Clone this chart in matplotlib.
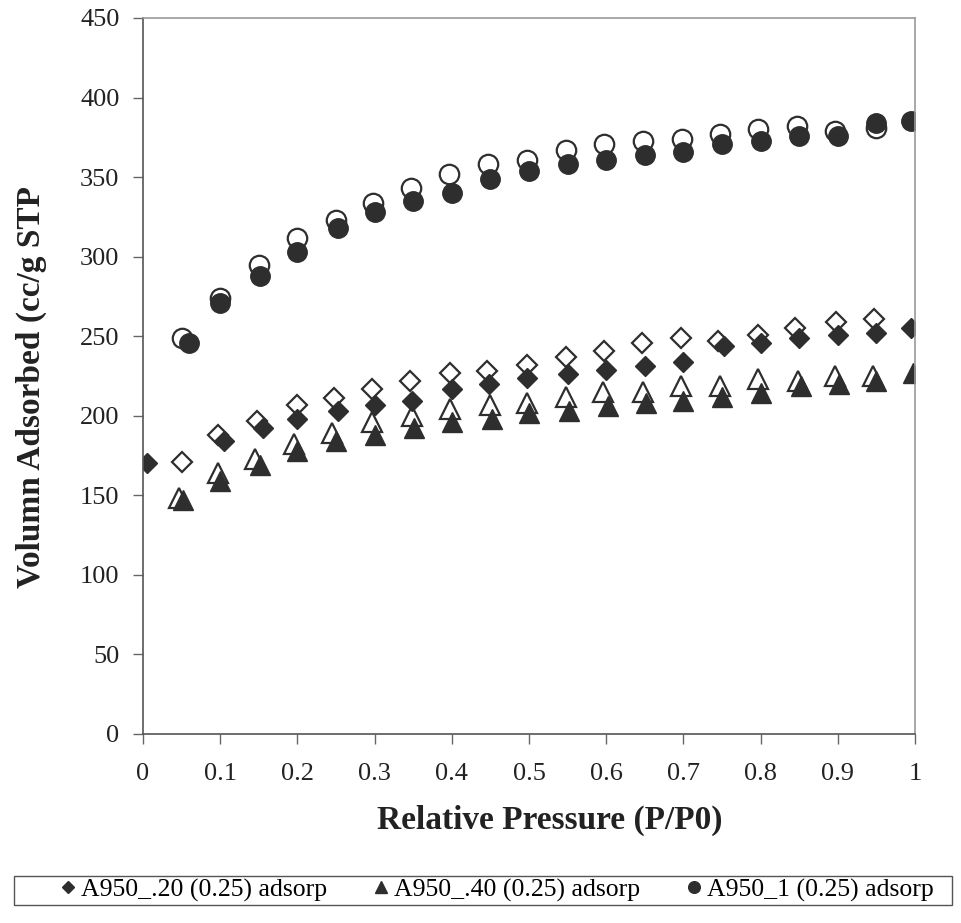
import numpy as np
import matplotlib
matplotlib.use("Agg")
import matplotlib.pyplot as plt
from matplotlib.patches import Rectangle

plt.rcParams['font.family'] = ['Liberation Serif', 'DejaVu Serif']

# A950_.20 (0.25): adsorption (filled) and desorption (open)
p_20_ads = [0.005, 0.105, 0.155, 0.2, 0.252, 0.3, 0.348, 0.4, 0.448, 0.497,
            0.55, 0.6, 0.65, 0.7, 0.752, 0.8, 0.85, 0.9, 0.95, 0.995]
v_20_ads = [170, 184, 192, 198, 203, 207, 209, 217, 220, 224,
            226, 229, 231, 234, 244, 246, 249, 251, 252, 255]
p_20_des = [0.05, 0.097, 0.147, 0.2, 0.248, 0.297, 0.346, 0.398, 0.446, 0.497,
            0.548, 0.597, 0.647, 0.697, 0.745, 0.797, 0.845, 0.898, 0.947]
v_20_des = [171, 188, 197, 207, 211, 217, 222, 227, 228, 232,
            237, 241, 246, 249, 247, 251, 255, 259, 261]

# A950_.40 (0.25)
p_40_ads = [0.052, 0.1, 0.152, 0.2, 0.25, 0.3, 0.351, 0.4, 0.452, 0.5,
            0.552, 0.602, 0.651, 0.7, 0.75, 0.8, 0.853, 0.902, 0.95, 0.997]
v_40_ads = [147, 159, 169, 178, 184, 188, 192, 196, 198, 202,
            203, 206, 208, 209, 212, 214, 219, 220, 222, 227]
p_40_des = [0.047, 0.097, 0.145, 0.195, 0.245, 0.297, 0.349, 0.398, 0.449, 0.497,
            0.548, 0.596, 0.648, 0.697, 0.748, 0.797, 0.848, 0.897, 0.945]
v_40_des = [148, 164, 173, 182, 189, 196, 200, 204, 207, 208,
            212, 215, 215, 219, 219, 223, 222, 225, 225]

# A950_1 (0.25)
p_1_ads = [0.06, 0.1, 0.152, 0.2, 0.253, 0.3, 0.35, 0.4, 0.45, 0.5,
           0.55, 0.6, 0.65, 0.7, 0.75, 0.8, 0.85, 0.9, 0.95, 0.995]
v_1_ads = [246, 271, 288, 303, 318, 328, 335, 340, 349, 354,
           358, 361, 364, 366, 371, 373, 376, 376, 384, 385]
p_1_des = [0.05, 0.1, 0.15, 0.2, 0.25, 0.298, 0.347, 0.397, 0.447, 0.497,
           0.548, 0.597, 0.648, 0.698, 0.748, 0.797, 0.847, 0.897, 0.95]
v_1_des = [249, 274, 295, 312, 323, 334, 343, 352, 358, 361,
           367, 371, 373, 374, 377, 380, 382, 379, 381]

labels = ["A950_.20 (0.25) adsorp", "A950_.40 (0.25) adsorp", "A950_1 (0.25) adsorp"]

dark = "#2e2e2e"

fig = plt.figure(figsize=(9.62, 9.23), dpi=100)
ax = fig.add_axes([0.1487, 0.2048, 0.8024, 0.7757])

# open (desorption) markers first, filled on top
ax.plot(p_20_des, v_20_des, ls="none", marker="D", ms=10, mfc="white", mec=dark, mew=1.6)
ax.plot(p_40_des, v_40_des, ls="none", marker="^", ms=15, mfc="white", mec=dark, mew=1.6)
ax.plot(p_1_des, v_1_des, ls="none", marker="o", ms=14, mfc="white", mec=dark, mew=1.6)

h1, = ax.plot(p_20_ads, v_20_ads, ls="none", marker="D", ms=10, color=dark, label=labels[0])
h2, = ax.plot(p_40_ads, v_40_ads, ls="none", marker="^", ms=15, color=dark, label=labels[1])
h3, = ax.plot(p_1_ads, v_1_ads, ls="none", marker="o", ms=14, color=dark, label=labels[2])

ax.set_xlim(0, 1)
ax.set_ylim(0, 450)
ax.set_xticks(np.arange(0, 1.01, 0.1))
ax.set_xticklabels(["0", "0.1", "0.2", "0.3", "0.4", "0.5", "0.6", "0.7", "0.8", "0.9", "1"])
ax.set_yticks(np.arange(0, 451, 50))
ax.tick_params(axis="both", direction="out", length=7, width=1, color="#666666",
               labelsize=19, labelcolor="#222222")
ax.tick_params(axis="x", pad=14)
ax.tick_params(axis="y", pad=10)

for side in ["left", "bottom"]:
    ax.spines[side].set_color("#555555")
    ax.spines[side].set_linewidth(1.2)
for side in ["top", "right"]:
    ax.spines[side].set_color("#999999")
    ax.spines[side].set_linewidth(1.2)

ax.set_xlabel("Relative Pressure (P/P0)", fontsize=24, fontweight="bold", color="#222222",
              labelpad=14, x=0.527)
ax.set_ylabel("Volumn Adsorbed (cc/g STP", fontsize=24, fontweight="bold", color="#222222",
              labelpad=24, y=0.485)

# legend box drawn separately so the entries can sit where the reference has them
fig.patches.append(Rectangle((0.0146, 0.0195), 0.975, 0.0314, transform=fig.transFigure,
                             fill=False, edgecolor="#555555", linewidth=1.0))
leg = fig.legend(handles=[h1, h2, h3], labels=labels, ncol=3, loc="center",
                 bbox_to_anchor=(0.517, 0.0358), bbox_transform=fig.transFigure,
                 fontsize=18.5, markerscale=0.6, handlelength=0.6, handletextpad=0.2,
                 columnspacing=1.8, frameon=False, borderaxespad=0, borderpad=0)

fig.savefig("out.png", dpi=100)
